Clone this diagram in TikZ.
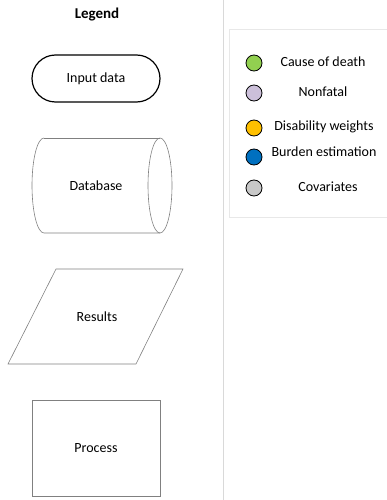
\documentclass[tikz,border=0pt]{standalone}
\usepackage{fontspec}
\setmainfont{Carlito}
\usepackage{tikz}

\definecolor{codgreen}{HTML}{92D050}
\definecolor{nflilac}{HTML}{CCC0DA}
\definecolor{dwgold}{HTML}{FFC000}
\definecolor{beblue}{HTML}{0070C0}
\definecolor{covgray}{HTML}{C8C8C8}
\definecolor{rulegray}{HTML}{D9D9D9}
\definecolor{shapegray}{HTML}{808080}

\tikzset{
    shapeline/.style={draw=shapegray, line width=0.6pt},
    lbl/.style={font=\fontsize{14}{16}\selectfont},
    dot/.style={circle, draw=black, line width=0.8pt, minimum size=16pt, inner sep=0pt}
}

\begin{document}
\begin{tikzpicture}[x=1pt,y=-1pt]
    \useasboundingbox (0,0) rectangle (387,500);
    \draw[rulegray, line width=0.8pt] (223,0) -- (223,500);
    \node[font=\fontsize{15}{17}\selectfont\bfseries] (title) at (97,15) {Legend};
    % left column of shapes
    \draw[line width=1.2pt, rounded corners=23.5pt] (32,55) rectangle (160,102);
    \node[lbl] (input) at (96,79) {Input data};
    \draw[shapegray, line width=0.6pt] (44,138) -- (160,138);
    \draw[shapegray, line width=0.6pt] (44,138) arc[start angle=270,end angle=90,x radius=12,y radius=47.5] -- (160,233);
    \draw[shapegray, line width=0.6pt] (160,185.5) ellipse[x radius=12,y radius=47.5];
    \node[lbl] (database) at (96,186) {Database};
    \draw[shapeline] (56,269) -- (183,269) -- (136,364) -- (8,364) -- cycle;
    \node[lbl] (results) at (97,317) {Results};
    \draw[shapeline] (32,400) rectangle (160,496);
    \node[lbl] (process) at (96,448) {Process};
    % colour key
    \draw[rulegray!60, line width=0.6pt] (229,29) -- (390,29) (229,29) -- (229,217) -- (390,217);
    \node[dot, fill=codgreen] (c1) at (254,63) {};
    \node[dot, fill=nflilac] (c2) at (254,93) {};
    \node[dot, fill=dwgold] (c3) at (254,128) {};
    \node[dot, fill=beblue] (c4) at (254,157) {};
    \node[dot, fill=covgray] (c5) at (254,188) {};
    \node[lbl] (t1) at (323,62) {Cause of death};
    \node[lbl] (t2) at (323,92) {Nonfatal};
    \node[lbl] (t3) at (324,127) {Disability weights};
    \node[lbl] (t4) at (324,152) {Burden estimation};
    \node[lbl] (t5) at (328,187) {Covariates};
\end{tikzpicture}
\end{document}
